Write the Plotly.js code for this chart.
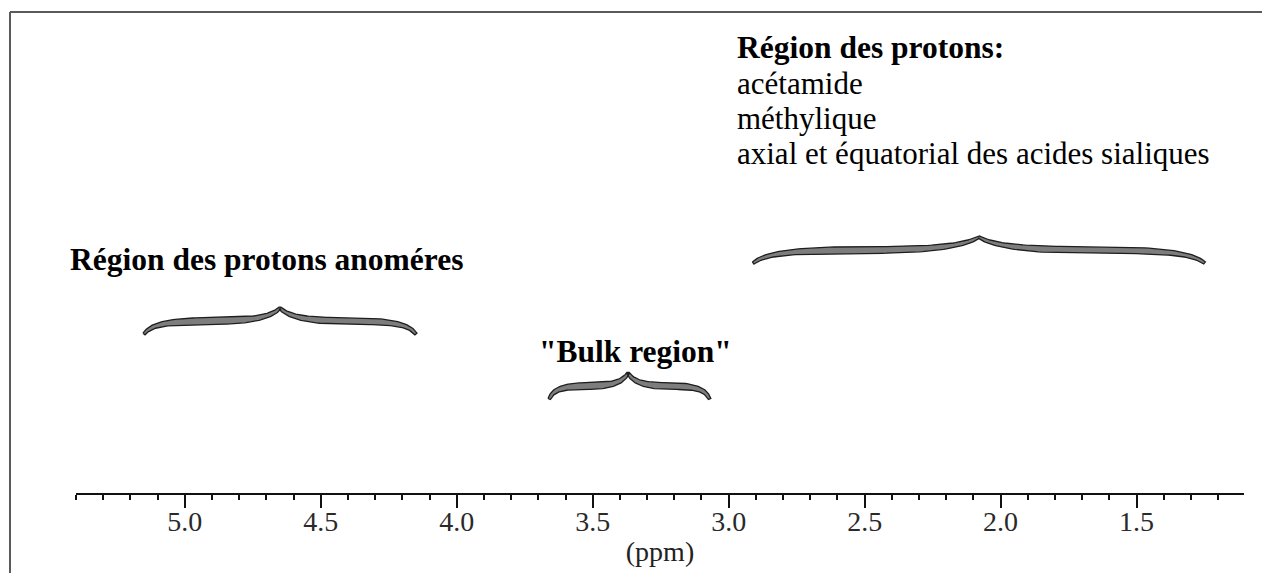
<!DOCTYPE html>
<html><head><meta charset="utf-8">
<script src="https://cdn.plot.ly/plotly-3.0.1.min.js"></script>
<style>html,body{margin:0;padding:0;background:#fff;} #chart{width:1262px;height:573px;}</style>
</head><body><div id="chart"></div>
<script>
// ---- data ----
const braceStartPpm  = [5.15, 3.66, 2.91];
const braceEndPpm    = [4.15, 3.07, 1.25];
const braceCentrePpm = [4.65, 3.37, 2.08];
const tickValues = [5.0, 4.5, 4.0, 3.5, 3.0, 2.5, 2.0, 1.5];
const tickLabels = ['5.0', '4.5', '4.0', '3.5', '3.0', '2.5', '2.0', '1.5'];
const anomerLabel = 'Région des protons anoméres';
const bulkLabel = '"Bulk region"';
const rightHeading = 'Région des protons:';
const rightLines = ['acétamide', 'méthylique', 'axial et équatorial des acides sialiques'];
const axisTitle = '(ppm)';

// ---- layout geometry ----
const W = 1262, H = 573;
const M = {l: 76, r: 18, t: 12, b: 80};
const plotW = W - M.l - M.r, plotH = H - M.t - M.b;
const xRange = [5.4, 1.105];
const pxPerPpm = plotW / (xRange[0] - xRange[1]);
const plotBottom = H - M.b;
const braceTipY = [334, 399, 263];   // pixel y of the brace tips
const braceH = 26, plateauH = 13;

function px2paper(px) { return (px - M.l) / plotW; }
function py2y(py) { return plotBottom - py; }
function py2paper(py) { return (plotBottom - py) / plotH; }

function cubic(p0, p1, p2, p3, s) {
  const a = 1 - s;
  return [a*a*a*p0[0] + 3*a*a*s*p1[0] + 3*a*s*s*p2[0] + s*s*s*p3[0],
          a*a*a*p0[1] + 3*a*a*s*p1[1] + 3*a*s*s*p2[1] + s*s*s*p3[1]];
}
function halfTemplate(L) {
  const hm = plateauH, hh = braceH;
  const segs = [
    [[0, 0], [0.05*L, 0.7*hm], [0.15*L, hm], [0.5*L, hm]],
    [[0.5*L, hm], [0.75*L, hm], [0.93*L, hm + 0.2*(hh - hm)], [L, hh]]
  ];
  const pts = [];
  segs.forEach((sg, k) => {
    const n = 40;
    for (let i = (k === 0 ? 0 : 1); i <= n; i++) pts.push(cubic(sg[0], sg[1], sg[2], sg[3], i / n));
  });
  const up = [], lo = [];
  for (let i = 0; i < pts.length; i++) {
    const a = pts[Math.max(0, i - 1)], b = pts[Math.min(pts.length - 1, i + 1)];
    let dx = b[0] - a[0], dy = b[1] - a[1];
    const len = Math.hypot(dx, dy) || 1; dx /= len; dy /= len;
    const u = pts[i][0] / L;
    const w = 2.6 + 4.2 * Math.pow(Math.sin(Math.PI * Math.min(1, Math.max(0, u))), 0.7);
    up.push([pts[i][0] - dy * w / 2, pts[i][1] + dx * w / 2]);
    lo.push([pts[i][0] + dy * w / 2, pts[i][1] - dx * w / 2]);
  }
  return {up, lo};
}
function braceTrace(i) {
  const x0 = braceStartPpm[i], x1 = braceEndPpm[i], xc = braceCentrePpm[i];
  const L = (x0 - xc) * pxPerPpm, R = (xc - x1) * pxPerPpm;
  const left = halfTemplate(L), right = halfTemplate(R);
  const poly = [];
  left.up.forEach(p => poly.push(p));
  right.up.slice().reverse().forEach(p => poly.push([L + R - p[0], p[1]]));
  right.lo.forEach(p => poly.push([L + R - p[0], p[1]]));
  left.lo.slice().reverse().forEach(p => poly.push(p));
  poly.push(poly[0]);
  const base = py2y(braceTipY[i]);
  return {
    type: 'scatter', mode: 'lines', fill: 'toself',
    x: poly.map(p => x0 - p[0] / pxPerPpm),
    y: poly.map(p => base + p[1]),
    fillcolor: '#7d7d7d', line: {color: '#1e1e1e', width: 1.3},
    hoverinfo: 'skip', showlegend: false
  };
}
const traces = braceStartPpm.map((_, i) => braceTrace(i));

const serif = 'Liberation Serif, Times New Roman, serif';
const annotations = [
  {text: '<b>' + anomerLabel + '</b>', x: px2paper(68), y: py2y(259), xanchor: 'left', size: 31.5},
  {text: '<b>' + bulkLabel + '</b>', x: px2paper(635), y: py2y(351), xanchor: 'center', size: 31.5},
  {text: '<b>' + rightHeading + '</b>', x: px2paper(735), y: py2y(47), xanchor: 'left', size: 31.5},
  {text: rightLines[0], x: px2paper(735), y: py2y(83), xanchor: 'left', size: 31},
  {text: rightLines[1], x: px2paper(735), y: py2y(118), xanchor: 'left', size: 31},
  {text: rightLines[2], x: px2paper(735), y: py2y(153), xanchor: 'left', size: 31}
].map(a => {
  const s = a.size; delete a.size;
  return Object.assign({xref: 'paper', yref: 'y', yanchor: 'middle', showarrow: false,
    font: {family: serif, size: s, color: '#000'}}, a);
});

const shapes = [
  {type: 'line', xref: 'paper', yref: 'paper', x0: px2paper(10), x1: px2paper(W + 5), y0: py2paper(12), y1: py2paper(12),
   line: {color: '#5a5a5a', width: 2}},
  {type: 'line', xref: 'paper', yref: 'paper', x0: px2paper(10), x1: px2paper(10), y0: py2paper(12), y1: py2paper(H + 5),
   line: {color: '#5a5a5a', width: 2}}
];

const layout = {
  width: W, height: H, margin: M,
  paper_bgcolor: '#fff', plot_bgcolor: '#fff', showlegend: false,
  xaxis: {
    range: xRange, showline: true, linecolor: '#111', linewidth: 2,
    ticks: 'outside', ticklen: 13, tickwidth: 2, tickcolor: '#111',
    tickmode: 'array', tickvals: tickValues, ticktext: tickLabels,
    tickfont: {family: serif, size: 28, color: '#2a2a2a'},
    ticklabelstandoff: -11,
    minor: {tickmode: 'linear', tick0: 0, dtick: 0.1, ticks: 'outside', ticklen: 5, tickwidth: 2, tickcolor: '#111', showgrid: false},
    showgrid: false, zeroline: false, fixedrange: true,
    title: {text: axisTitle, font: {family: serif, size: 28, color: '#222'}, standoff: 6}
  },
  yaxis: {range: [0, plotH], visible: false, fixedrange: true},
  annotations, shapes
};
Plotly.newPlot('chart', traces, layout, {staticPlot: true, displayModeBar: false});
</script></body></html>
